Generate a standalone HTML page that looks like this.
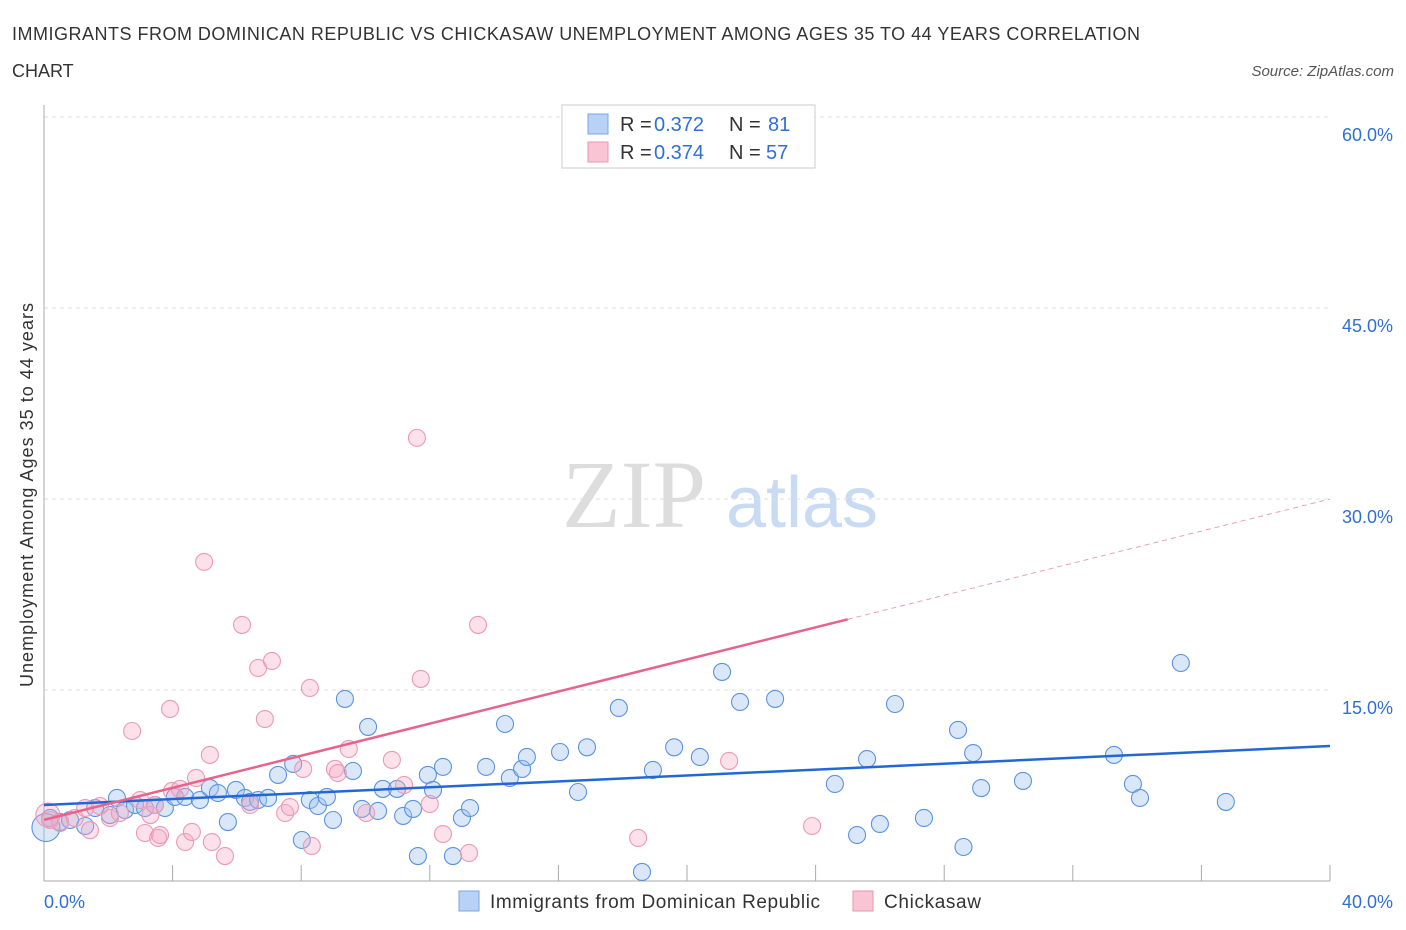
<!DOCTYPE html>
<html><head><meta charset="utf-8"><style>
body{margin:0;background:#fff;font-family:"Liberation Sans",sans-serif;}
svg{display:block}
</style></head><body>
<svg id="c" width="1406" height="930">
<text x="12" y="40" font-size="18" fill="#333" textLength="1128">IMMIGRANTS FROM DOMINICAN REPUBLIC VS CHICKASAW UNEMPLOYMENT AMONG AGES 35 TO 44 YEARS CORRELATION</text>
<text x="12" y="77" font-size="18" fill="#333">CHART</text>
<text x="1394" y="76" font-size="15" fill="#555" font-style="italic" text-anchor="end">Source: ZipAtlas.com</text>
<text x="634" y="527" font-size="96" fill="#ddd" font-family="Liberation Serif,serif" text-anchor="middle">ZIP</text>
<text x="802" y="527" font-size="72" fill="#c9daf3" text-anchor="middle">atlas</text>
<text transform="translate(33,495) rotate(-90)" font-size="18" fill="#333" text-anchor="middle" textLength="384">Unemployment Among Ages 35 to 44 years</text>
<g id="grid"></g><g id="pts"></g><g id="lines"></g>
<g font-size="20">
<rect x="562" y="105" width="253" height="63" fill="#fff" stroke="#ccc"/>
<rect x="588" y="114" width="20" height="20" fill="#b8d2f5" stroke="#7aa6e4"/>
<rect x="588" y="142" width="20" height="20" fill="#f9c4d3" stroke="#e996b0"/>
<text x="620" y="131" fill="#333">R =</text><text x="654" y="131" fill="#2f6fd6">0.372</text>
<text x="729" y="131" fill="#333">N =</text><text x="768" y="131" fill="#2f6fd6">81</text>
<text x="620" y="159" fill="#333">R =</text><text x="654" y="159" fill="#2f6fd6">0.374</text>
<text x="729" y="159" fill="#333">N =</text><text x="766" y="159" fill="#2f6fd6">57</text>
</g>
<g>
<rect x="459" y="891" width="20" height="20" fill="#b8d2f5" stroke="#7aa6e4"/>
<text x="490" y="908" font-size="19" fill="#333" textLength="330">Immigrants from Dominican Republic</text>
<rect x="853" y="891" width="20" height="20" fill="#f9c4d3" stroke="#e996b0"/>
<text x="884" y="908" font-size="19" fill="#333" textLength="97">Chickasaw</text>
</g>
</svg>
<script>
const yTicks=[15,30,45,60];
const xTickLabels=["0.0%","40.0%"];
const blueX=[0.19,0.5,0.81,1.28,1.59,2.05,2.27,2.52,2.83,3.14,3.45,3.76,4.07,4.39,4.85,5.16,5.41,5.72,5.97,6.25,6.41,6.66,6.97,7.28,7.75,8.02,8.27,8.52,8.8,8.99,9.36,9.61,9.89,10.08,10.39,10.54,10.98,11.17,11.48,11.94,12.1,12.41,11.63,12.72,13.0,13.25,13.75,14.34,14.49,14.87,15.02,16.05,16.61,16.89,17.88,18.6,18.94,19.6,20.4,21.09,21.65,22.74,24.6,25.29,25.6,26.0,26.47,27.37,28.43,28.6,28.9,29.15,30.45,33.28,33.87,34.09,35.36,36.76,0.06];
const blueY=[4.95,4.63,4.79,4.32,5.73,5.18,6.52,5.58,5.97,5.73,5.97,5.73,6.6,6.6,6.36,7.3,6.91,4.63,7.15,6.52,6.21,6.36,6.52,8.33,9.19,3.22,6.36,5.89,6.6,4.79,14.3,8.64,5.66,12.1,5.5,7.23,7.23,5.11,5.66,8.33,7.15,8.96,1.96,1.96,4.95,5.73,8.96,12.33,8.09,8.8,9.74,10.13,6.99,10.5,13.59,0.71,8.72,10.5,9.74,16.42,14.06,14.3,7.62,3.61,9.58,4.48,13.9,4.95,11.86,2.67,10.05,7.3,7.86,9.9,7.62,6.52,17.12,6.21,4.2];
const pinkX=[0.19,0.5,0.96,1.28,1.43,1.74,2.05,2.36,2.74,2.99,3.14,3.31,3.45,3.55,3.61,3.92,3.98,4.23,4.39,4.6,4.73,4.98,5.16,5.22,5.63,6.16,6.41,6.66,6.87,7.09,7.5,7.65,8.06,8.27,8.33,9.05,9.14,9.48,10.02,10.82,11.2,11.6,11.72,12.0,12.41,13.22,13.5,18.48,21.31,23.89,0.12];
const pinkY=[4.79,4.56,4.95,5.73,3.99,5.89,4.95,5.34,11.78,6.36,3.77,5.18,5.97,3.38,3.61,13.51,7.07,7.23,3.06,3.85,8.09,25.06,9.9,3.06,1.96,20.11,5.97,16.73,12.72,17.28,5.34,5.81,8.8,15.16,2.75,8.8,8.48,10.37,5.34,9.51,7.54,34.8,15.87,6.05,3.69,2.2,20.11,3.38,9.43,4.32,5.18];
const blueFit=[5.97,10.6], pinkFit=[4.8,30.0], pinkSolidEnd=25.0;
const X=v=>44+v*1286/40, Y=v=>881-v*764/60;
const NS='http://www.w3.org/2000/svg';
function mk(tag,attrs,parent){const e=document.createElementNS(NS,tag);for(const k in attrs)e.setAttribute(k,attrs[k]);parent.appendChild(e);return e;}
const grid=document.getElementById('grid');
yTicks.forEach(t=>{
 const l=mk('line',{x1:44,x2:1330,y1:Y(t),y2:Y(t),stroke:'#ddd','stroke-dasharray':'4,4'},grid);
 
 
 const tx=mk('text',{x:1393,y:Y(t)+24,'font-size':18,fill:'#2f6fd6','text-anchor':'end'},grid);
 tx.textContent=t.toFixed(1)+'%';
 
 
});
const ax=mk('line',{x1:44,x2:44,y1:105,y2:881,stroke:'#aaa'},grid);


const bx=mk('line',{x1:44,x2:1330,y1:881,y2:881,stroke:'#aaa'},grid);


for(let i=0;i<=10;i++){const t=mk('line',{x1:X(i*4),x2:X(i*4),y1:865,y2:881,stroke:'#aaa'},grid);
 
 }
[[0,'start',44],[40,'end',1393]].forEach((d,i)=>{const t=mk('text',{x:d[2],y:908,'font-size':18,fill:'#2f6fd6','text-anchor':d[1]},grid);t.textContent=xTickLabels[i];
 
 });
const pts=document.getElementById('pts');
blueX.forEach((x,i)=>{const c=mk('circle',{cx:X(x),cy:Y(blueY[i]),r:i==blueX.length-1?14:8.5,fill:'rgba(160,195,240,0.4)',stroke:'#5b93e0','stroke-width':1.1},pts);
 
 });
pinkX.forEach((x,i)=>{const c=mk('circle',{cx:X(x),cy:Y(pinkY[i]),r:i==pinkX.length-1?12:8.5,fill:'rgba(245,170,195,0.35)',stroke:'#ea9ab4','stroke-width':1.1},pts);
 
 });
const lines=document.getElementById('lines');
const bl=mk('line',{x1:X(0),y1:Y(blueFit[0]),x2:X(40),y2:Y(blueFit[1]),stroke:'#2268d4','stroke-width':2.5},lines);


const pm=pinkFit[0]+(pinkFit[1]-pinkFit[0])*pinkSolidEnd/40;
const pl=mk('line',{x1:X(0),y1:Y(pinkFit[0]),x2:X(pinkSolidEnd),y2:Y(pm),stroke:'#e8638c','stroke-width':2.5},lines);


const pd=mk('line',{x1:X(pinkSolidEnd),y1:Y(pm),x2:X(40),y2:Y(pinkFit[1]),stroke:'#e8a0b5','stroke-width':1,'stroke-dasharray':'5,4'},lines);


</script>
</body></html>
